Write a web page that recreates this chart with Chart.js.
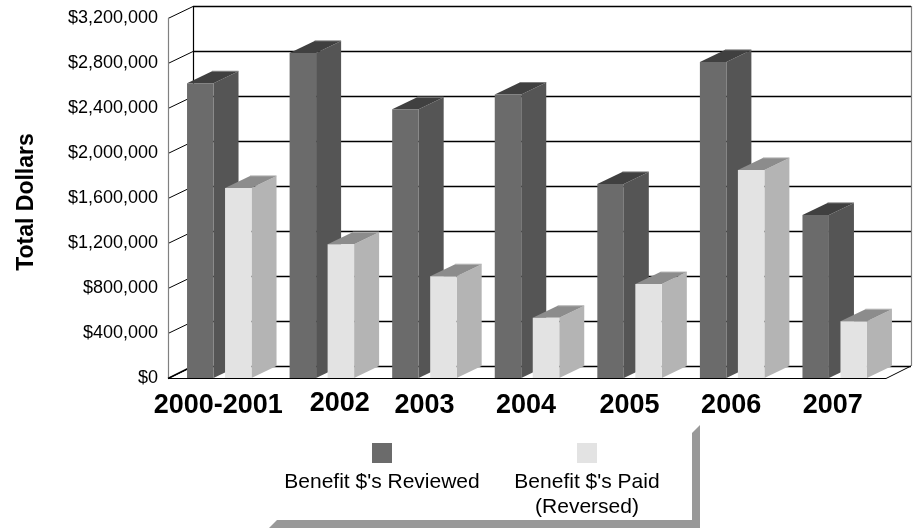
<!DOCTYPE html>
<html>
<head>
<meta charset="utf-8">
<title>Benefit dollars</title>
<style>
  html, body { margin: 0; padding: 0; background: #fff; }
  canvas { display: block; }
</style>
<script src="https://cdn.jsdelivr.net/npm/chart.js@4"></script>
</head>
<body>
<canvas id="chart" width="918" height="532"></canvas>
<script>
const years = ["2000-2001", "2002", "2003", "2004", "2005", "2006", "2007"];
const reviewed = [2620000, 2890000, 2390000, 2520000, 1725000, 2810000, 1450000];
const paid = [1690000, 1190000, 905000, 535000, 835000, 1850000, 505000];
const seriesNames = [["Benefit $'s Reviewed"], ["Benefit $'s Paid", "(Reversed)"]];
const axisTitle = "Total Dollars";

// a few year labels sit off their category centre
const yearNudgeX = [-1, 18, 0, -1, 0, -1, -2];
const yearNudgeY = [0, -2, 0, 0, 0, 0, 0];

const FONT = '"Liberation Sans", Arial, sans-serif';
const DEPTH_X = 25;
const DEPTH_Y = 12;

const FACES = [
  { front: "#6b6b6b", side: "#555555", top: "#404040", edge: "#7c7c7c" },
  { front: "#e3e3e3", side: "#b4b4b4", top: "#8c8c8c", edge: "#b4b4b4" },
];

function fillPoly(ctx, color, points) {
  ctx.fillStyle = color;
  ctx.beginPath();
  points.forEach(([x, y], i) => (i ? ctx.lineTo(x, y) : ctx.moveTo(x, y)));
  ctx.closePath();
  ctx.fill();
}

function strokeLine(ctx, color, width, x1, y1, x2, y2) {
  ctx.strokeStyle = color;
  ctx.lineWidth = width;
  ctx.beginPath();
  ctx.moveTo(x1, y1);
  ctx.lineTo(x2, y2);
  ctx.stroke();
}

function drawBarFaces(chart, index) {
  const { ctx } = chart;
  const faces = FACES[index];
  ctx.save();
  chart.getDatasetMeta(index).data.forEach((bar) => {
    const x1 = bar.x - bar.width / 2;
    const x2 = bar.x + bar.width / 2;
    const backY = bar.y - DEPTH_Y;
    fillPoly(ctx, faces.side, [
      [x2, bar.y],
      [x2 + DEPTH_X, backY],
      [x2 + DEPTH_X, bar.base - DEPTH_Y],
      [x2, bar.base],
    ]);
    fillPoly(ctx, faces.top, [
      [x1, bar.y],
      [x1 + DEPTH_X, backY],
      [x2 + DEPTH_X, backY],
      [x2, bar.y],
    ]);
    // thin lighter edge along the back of the top face
    strokeLine(ctx, faces.edge, 1, x1 + DEPTH_X, backY, x2 + DEPTH_X, backY);
  });
  ctx.restore();
}

const wallPlugin = {
  id: "walls",
  // back wall, side wall and floor of the box
  beforeDatasetsDraw(chart) {
    const { ctx, chartArea: area, scales } = chart;
    const { left, right, top, bottom } = area;
    ctx.save();
    scales.y.ticks.forEach((tick, i) => {
      const y = Math.round(scales.y.getPixelForTick(i)) + 0.5;
      strokeLine(ctx, "#000", 1, left, y, left + DEPTH_X, y - DEPTH_Y);
      strokeLine(ctx, "#000", 1.3, left + DEPTH_X, y - DEPTH_Y, right + DEPTH_X, y - DEPTH_Y);
    });
    strokeLine(ctx, "#000", 1.2, left + DEPTH_X + 0.5, top - DEPTH_Y, left + DEPTH_X + 0.5, bottom - DEPTH_Y);
    strokeLine(ctx, "#808080", 1.2, left + 0.5, top, left + 0.5, bottom);
    strokeLine(ctx, "#808080", 1.2, right + DEPTH_X + 0.5, top - DEPTH_Y, right + DEPTH_X + 0.5, bottom - DEPTH_Y);
    strokeLine(ctx, "#000", 1.5, left, bottom + 0.5, left + DEPTH_X, bottom - DEPTH_Y);
    strokeLine(ctx, "#000", 1, right, bottom + 0.5, right + DEPTH_X, bottom - DEPTH_Y);
    strokeLine(ctx, "#000", 1.2, left, bottom + 0.5, right, bottom + 0.5);
    ctx.restore();
  },
  // the paid series has to end up over the reviewed one, so it is held back here
  beforeDatasetDraw(chart, args) {
    if (args.index === 1) return false;
    drawBarFaces(chart, 0);
  },
  afterDatasetsDraw(chart) {
    drawBarFaces(chart, 1);
    chart.getDatasetMeta(1).controller.draw();
  },
};

// axis title, category labels and the legend with its drop shadow
const labelPlugin = {
  id: "labels",
  afterDraw(chart) {
    const { ctx, scales } = chart;
    ctx.save();
    ctx.fillStyle = "#000";
    ctx.textAlign = "center";
    ctx.textBaseline = "alphabetic";

    ctx.save();
    ctx.translate(33, 202);
    ctx.rotate(-Math.PI / 2);
    ctx.font = "bold 23px " + FONT;
    ctx.fillText(axisTitle, 0, 0);
    ctx.restore();

    ctx.font = "bold 27px " + FONT;
    years.forEach((year, i) => {
      ctx.fillText(year, scales.x.getPixelForTick(i) + yearNudgeX[i], 413 + yearNudgeY[i]);
    });

    fillPoly(ctx, "#999999", [
      [700, 425], [692, 433], [692, 520], [277, 520], [269, 528], [700, 528],
    ]);

    const swatchX = [382, 587];
    ctx.font = "21px " + FONT;
    seriesNames.forEach((lines, i) => {
      ctx.fillStyle = FACES[i].front;
      ctx.fillRect(swatchX[i] - 10, 443, 20, 20);
      ctx.fillStyle = "#000";
      lines.forEach((line, j) => ctx.fillText(line, swatchX[i], 488 + j * 25));
    });
    ctx.restore();
  },
};

new Chart(document.getElementById("chart"), {
  type: "bar",
  data: {
    labels: years,
    datasets: [
      { label: seriesNames[0].join(" "), data: reviewed, backgroundColor: FACES[0].front },
      { label: seriesNames[1].join(" "), data: paid, backgroundColor: FACES[1].front },
    ],
  },
  plugins: [wallPlugin, labelPlugin],
  options: {
    responsive: false,
    animation: false,
    layout: { padding: { top: 18, right: 32, left: 0, bottom: 0 } },
    categoryPercentage: 0.741,
    barPercentage: 0.697,
    plugins: { legend: { display: false }, tooltip: { enabled: false } },
    scales: {
      x: {
        grid: { display: false },
        border: { display: false },
        ticks: { display: false },
        afterFit(scale) {
          scale.height = 154;
          scale.paddingLeft = 0;
          scale.paddingRight = 0;
        },
      },
      y: {
        min: 0,
        max: 3200000,
        grid: { display: false, drawTicks: false },
        border: { display: false },
        ticks: {
          stepSize: 400000,
          padding: 10,
          color: "#000",
          font: { family: FONT, size: 18 },
          callback: (value) => "$" + value.toLocaleString("en-US"),
        },
        afterFit(scale) {
          scale.width = 168;
          scale.paddingTop = 0;
          scale.paddingBottom = 0;
        },
      },
    },
  },
});
</script>
</body>
</html>
